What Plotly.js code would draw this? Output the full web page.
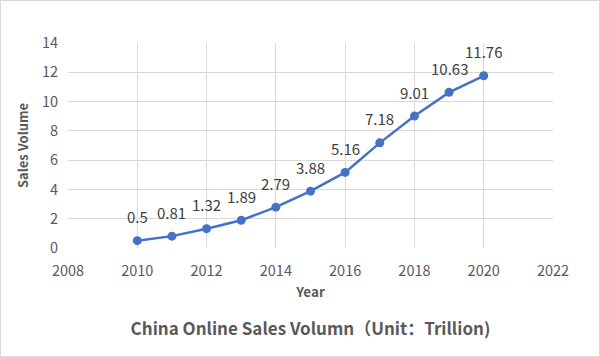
<!DOCTYPE html>
<html><head><meta charset="utf-8">
<script src="https://cdn.plot.ly/plotly-3.0.1.min.js"></script>
<style>
html,body{margin:0;padding:0;background:#fff;}
#wrap{width:598px;height:355px;border:1px solid #d9d9d9;}
#chart{width:598px;height:355px;}
</style></head>
<body><div id="wrap"><div id="chart"></div></div>
<script>
const years = [2010, 2011, 2012, 2013, 2014, 2015, 2016, 2017, 2018, 2019, 2020];
const sales = [0.5, 0.81, 1.32, 1.89, 2.79, 3.88, 5.16, 7.18, 9.01, 10.63, 11.76];
const labels = ["0.5","0.81","1.32","1.89","2.79","3.88","5.16","7.18","9.01","10.63","11.76"];
const xTicks = [2008, 2010, 2012, 2014, 2016, 2018, 2020, 2022];
const yTicks = [0, 2, 4, 6, 8, 10, 12, 14];
const FONT = '"Noto Sans CJK SC", "Noto Sans", sans-serif';

const trace = {
  x: years, y: sales,
  type: 'scatter', mode: 'lines+markers',
  line: {color: '#4472C4', width: 2.5},
  marker: {color: '#4472C4', size: 9},
  cliponaxis: false,
  hoverinfo: 'none'
};
const annotations = years.map((yr, i) => ({
  x: yr, y: sales[i], xref: 'x', yref: 'y', text: labels[i],
  showarrow: false, xanchor: 'center', yanchor: 'middle', yshift: 24,
  font: {family: FONT, size: 15, color: '#404040'}
}));
const layout = {
  width: 598, height: 355,
  margin: {l: 67, r: 46, t: 42, b: 108},
  paper_bgcolor: '#fff', plot_bgcolor: '#fff',
  showlegend: false,
  font: {family: FONT, color: '#595959'},
  annotations: annotations,
  title: {text: '<b>China Online Sales Volumn（Unit：Trillion)</b>', font: {family: FONT, size: 17, color: '#595959'},
          x: 0.5, xref: 'paper', y: 0.076, yref: 'container', yanchor: 'middle'},
  xaxis: {
    range: [2008, 2022], tickvals: xTicks, ticktext: xTicks.map(String),
    showgrid: true, gridcolor: '#d9d9d9', gridwidth: 1, zeroline: false,
    showline: false, ticks: '', ticklabelstandoff: 12,
    tickfont: {family: FONT, size: 14.5, color: '#595959'},
    title: {text: '<b>Year</b>', font: {family: FONT, size: 13.5, color: '#595959'}, standoff: 9}
  },
  yaxis: {
    range: [0, 14], tickvals: yTicks, ticktext: yTicks.map(String),
    showgrid: true, gridcolor: '#d9d9d9', gridwidth: 1, zeroline: false,
    showline: false, ticks: '', ticklabelstandoff: 9,
    tickfont: {family: FONT, size: 14.5, color: '#595959'},
    title: {text: '<b>Sales Volume</b>', font: {family: FONT, size: 13, color: '#595959'}, standoff: 10}
  }
};
Plotly.newPlot('chart', [trace], layout, {displayModeBar: false, staticPlot: true});
</script></body></html>
